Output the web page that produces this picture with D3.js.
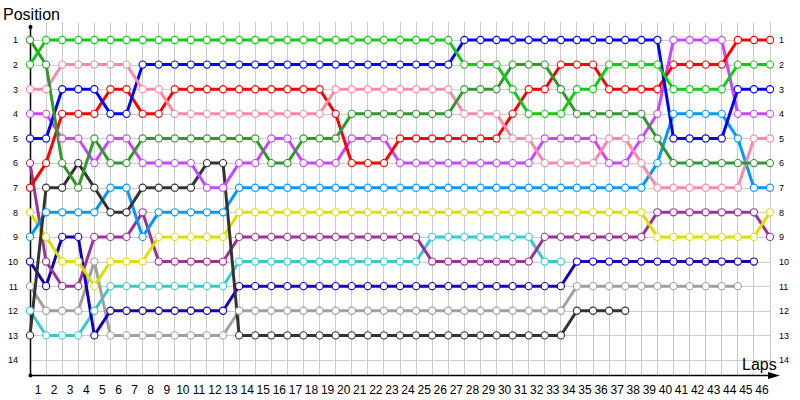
<!DOCTYPE html>
<html>
<head>
<meta charset="utf-8">
<script src="https://cdn.jsdelivr.net/npm/d3@7"></script>
<style>
body { margin: 0; background: #fff; }
svg { display: block; font-family: "Liberation Sans", Arial, sans-serif; }
</style>
</head>
<body>
<div id="chart"></div>
<script>
// lap index 0 = start grid, then laps 1..46
var lapIndex = [0, 1, 2, 3, 4, 5, 6, 7, 8, 9, 10, 11, 12, 13, 14, 15, 16, 17, 18, 19, 20, 21, 22, 23,
    24, 25, 26, 27, 28, 29, 30, 31, 32, 33, 34, 35, 36, 37, 38, 39, 40, 41, 42, 43, 44, 45, 46];
var lapLabels = ["1", "2", "3", "4", "5", "6", "7", "8", "9", "10", "11", "12", "13", "14", "15", "16",
    "17", "18", "19", "20", "21", "22", "23", "24", "25", "26", "27", "28", "29", "30", "31", "32",
    "33", "34", "35", "36", "37", "38", "39", "40", "41", "42", "43", "44", "45", "46"];
var positions = [1, 2, 3, 4, 5, 6, 7, 8, 9, 10, 11, 12, 13, 14];

// position per lap, one array per driver
var lime = [2, 1, 1, 1, 1, 1, 1, 1, 1, 1, 1, 1, 1, 1, 1, 1, 1, 1, 1, 1, 1, 1, 1, 1, 1, 1, 1,
    2, 2, 2, 3, 4, 4, 4, 3, 3, 2, 2, 2, 2, 3, 3, 3, 3, 2, 2, 2];
var darkGreen = [1, 2, 6, 7, 5, 6, 6, 5, 5, 5, 5, 5, 5, 5, 5, 6, 6, 5, 5, 5, 4, 4, 4, 4, 4, 4, 4,
    3, 3, 3, 2, 2, 2, 3, 4, 4, 4, 4, 4, 5, 6, 6, 6, 6, 6, 6, 6];
var pink = [3, 3, 2, 2, 2, 2, 2, 3, 3, 4, 4, 4, 4, 4, 4, 4, 4, 4, 4, 3, 3, 3, 3, 3, 3, 3, 3,
    4, 4, 4, 5, 5, 6, 6, 6, 6, 5, 5, 6, 7, 7, 7, 7, 7, 7, 5, 5];
var blue = [5, 5, 3, 3, 3, 4, 4, 2, 2, 2, 2, 2, 2, 2, 2, 2, 2, 2, 2, 2, 2, 2, 2, 2, 2, 2, 2,
    1, 1, 1, 1, 1, 1, 1, 1, 1, 1, 1, 1, 1, 5, 5, 5, 5, 3, 3, 3];
var red = [7, 6, 4, 4, 4, 3, 3, 4, 4, 3, 3, 3, 3, 3, 3, 3, 3, 3, 3, 4, 6, 6, 6, 5, 5, 5, 5,
    5, 5, 5, 4, 3, 3, 2, 2, 2, 3, 3, 3, 3, 2, 2, 2, 2, 1, 1, 1];
var violet = [4, 4, 5, 5, 6, 5, 5, 6, 6, 6, 6, 7, 7, 6, 6, 5, 5, 6, 6, 6, 5, 5, 5, 6, 6, 6, 6,
    6, 6, 6, 6, 6, 5, 5, 5, 5, 6, 6, 5, 4, 1, 1, 1, 1, 4, 4, 4];
var darkGray = [13, 7, 7, 6, 7, 8, 8, 7, 7, 7, 7, 6, 6, 13, 13, 13, 13, 13, 13, 13, 13, 13, 13,
    13, 13, 13, 13, 13, 13, 13, 13, 13, 13, 13, 12, 12, 12, 12];
var lightBlue = [9, 8, 8, 8, 8, 7, 7, 9, 8, 8, 8, 8, 8, 7, 7, 7, 7, 7, 7, 7, 7, 7, 7, 7, 7, 7, 7,
    7, 7, 7, 7, 7, 7, 7, 7, 7, 7, 7, 7, 6, 4, 4, 4, 4, 5, 7, 7];
var yellow = [8, 9, 10, 10, 11, 10, 10, 10, 9, 9, 9, 9, 9, 8, 8, 8, 8, 8, 8, 8, 8, 8, 8, 8, 8, 8, 8,
    8, 8, 8, 8, 8, 8, 8, 8, 8, 8, 8, 8, 9, 9, 9, 9, 9, 9, 9, 8];
var purple = [6, 10, 11, 11, 9, 9, 9, 8, 10, 10, 10, 10, 10, 9, 9, 9, 9, 9, 9, 9, 9, 9, 9, 9, 9,
    10, 10, 10, 10, 10, 10, 10, 9, 9, 9, 9, 9, 9, 9, 8, 8, 8, 8, 8, 8, 8, 9];
var navy = [10, 11, 9, 9, 13, 12, 12, 12, 12, 12, 12, 12, 12, 11, 11, 11, 11, 11, 11, 11, 11, 11,
    11, 11, 11, 11, 11, 11, 11, 11, 11, 11, 11, 11, 10, 10, 10, 10, 10, 10, 10, 10, 10, 10, 10, 10];
var gray = [11, 12, 12, 12, 10, 13, 13, 13, 13, 13, 13, 13, 13, 12, 12, 12, 12, 12, 12, 12, 12, 12,
    12, 12, 12, 12, 12, 12, 12, 12, 12, 12, 12, 12, 11, 11, 11, 11, 11, 11, 11, 11, 11, 11, 11];
var cyan = [12, 13, 13, 13, 12, 11, 11, 11, 11, 11, 11, 11, 11, 10, 10, 10, 10, 10, 10, 10, 10, 10,
    10, 10, 10, 9, 9, 9, 9, 9, 9, 9, 10, 10];

var drivers = [
    { pos: cyan, color: "#33cccc" },
    { pos: gray, color: "#a0a0a0" },
    { pos: navy, color: "#1400b8" },
    { pos: purple, color: "#993399" },
    { pos: yellow, color: "#dddd00" },
    { pos: lightBlue, color: "#0099ff" },
    { pos: darkGray, color: "#333333" },
    { pos: violet, color: "#cc44ff" },
    { pos: red, color: "#ff0000" },
    { pos: blue, color: "#0000ff" },
    { pos: pink, color: "#ff88aa" },
    { pos: darkGreen, color: "#2e9a2e" },
    { pos: lime, color: "#11cc11" }
];

var width = 800, height = 400;
var x = d3.scaleLinear().domain([0, 46]).range([30, 770]);
var y = d3.scaleLinear().domain([1, 14]).range([40, 360]);
var xLabel = d3.scaleBand().domain(lapLabels).range([30, 770]);

var svg = d3.select("#chart").append("svg")
    .attr("width", width).attr("height", height);

// grid
var grid = svg.append("g").attr("class", "gridLines");
grid.selectAll("line.v").data(lapIndex).enter().append("line")
    .attr("x1", function (d) { return x(d); })
    .attr("x2", function (d) { return x(d); })
    .attr("y1", 22).attr("y2", 375)
    .attr("stroke", "#cccccc").attr("stroke-width", 1)
    .attr("shape-rendering", "crispEdges");
grid.selectAll("line.h").data(positions).enter().append("line")
    .attr("x1", 30).attr("x2", 770)
    .attr("y1", function (d) { return Math.round(y(d)) + 0.5; })
    .attr("y2", function (d) { return Math.round(y(d)) + 0.5; })
    .attr("stroke", "#cccccc").attr("stroke-width", 1);

// axes
svg.append("line").attr("x1", 30.5).attr("x2", 30.5).attr("y1", 27).attr("y2", 375)
    .attr("stroke", "#000").attr("stroke-width", 1.5);
svg.append("line").attr("x1", 30).attr("x2", 776).attr("y1", 375.5).attr("y2", 375.5)
    .attr("stroke", "#000").attr("stroke-width", 1.5);
svg.append("circle").attr("cx", 30.5).attr("cy", 27).attr("r", 2).attr("fill", "#000");
svg.append("circle").attr("cx", 30.5).attr("cy", 375.5).attr("r", 2).attr("fill", "#000");
svg.append("path").attr("d", "M768,372 L780,375.5 L768,379 Z").attr("fill", "#000");

var bottomAxis = svg.append("g").attr("transform", "translate(0,382)")
    .call(d3.axisBottom(xLabel).tickSize(0));
bottomAxis.select(".domain").remove();
bottomAxis.selectAll("text").attr("font-size", 12).attr("fill", "#000")
    .attr("font-family", "Liberation Sans, Arial, sans-serif");

var leftAxis = svg.append("g").attr("transform", "translate(21,0)")
    .call(d3.axisLeft(y).tickValues(positions).tickSize(0).tickFormat(d3.format("d")));
leftAxis.select(".domain").remove();
leftAxis.selectAll("text").attr("font-size", 9).attr("fill", "#000")
    .attr("font-family", "Liberation Sans, Arial, sans-serif");

var rightAxis = svg.append("g").attr("transform", "translate(776,0)")
    .call(d3.axisRight(y).tickValues(positions).tickSize(0).tickFormat(d3.format("d")));
rightAxis.select(".domain").remove();
rightAxis.selectAll("text").attr("font-size", 9).attr("fill", "#000")
    .attr("font-family", "Liberation Sans, Arial, sans-serif");

svg.append("text").attr("x", 3).attr("y", 20).attr("font-size", 16).attr("fill", "#000")
    .text("Position");
svg.append("text").attr("x", 742).attr("y", 370).attr("font-size", 16).attr("fill", "#000")
    .text("Laps");

// driver lines
var line = d3.line()
    .x(function (d, i) { return x(lapIndex[i]); })
    .y(function (d) { return y(d); })
    .curve(d3.curveLinear);

var lines = svg.append("g").attr("class", "lineGraph");
lines.selectAll("path").data(drivers).enter().append("path")
    .attr("d", function (d) { return line(d.pos); })
    .attr("fill", "none")
    .attr("stroke", function (d) { return d.color; })
    .attr("stroke-width", 3)
    .attr("stroke-linejoin", "round");

var dots = svg.append("g").attr("class", "dots");
drivers.forEach(function (drv) {
    dots.append("g").selectAll("circle").data(drv.pos).enter().append("circle")
        .attr("cx", function (d, i) { return x(lapIndex[i]); })
        .attr("cy", function (d) { return y(d); })
        .attr("r", 3.6)
        .attr("fill", "#fff")
        .attr("stroke", drv.color)
        .attr("stroke-width", 1.1);
});
</script>
</body>
</html>
